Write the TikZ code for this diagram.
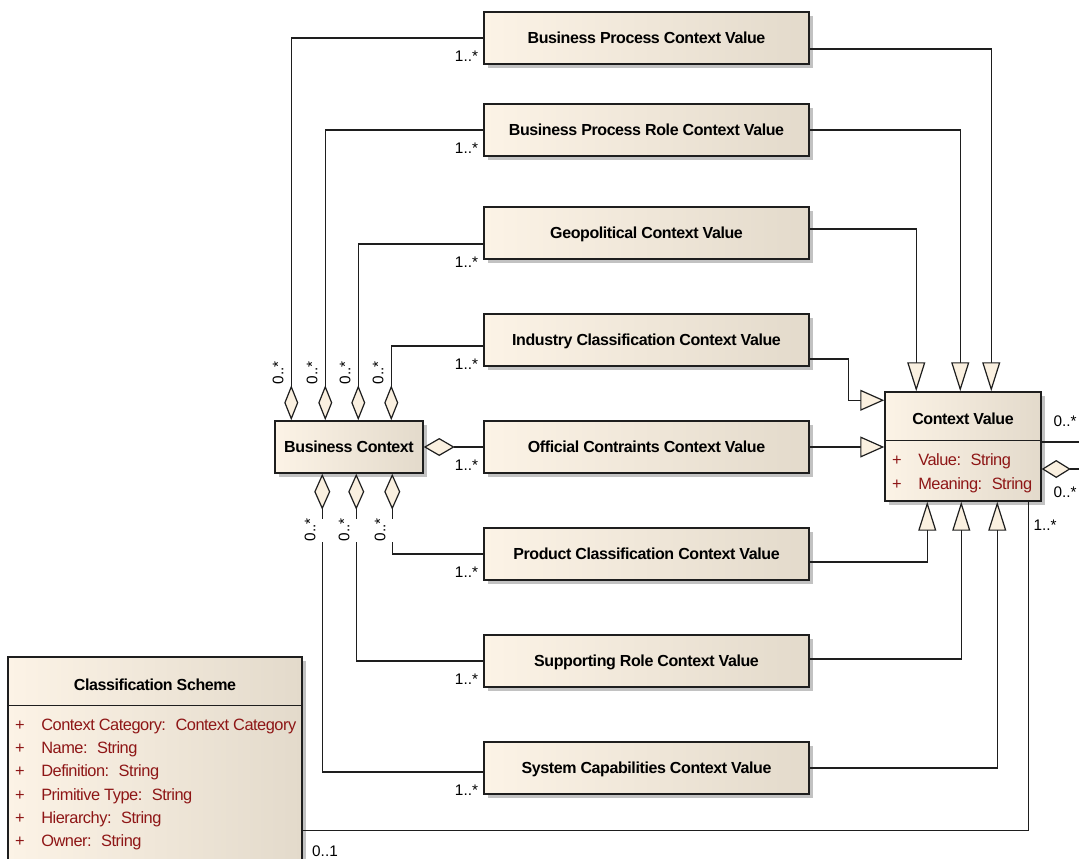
\documentclass[tikz,border=0pt]{standalone}
\usepackage{fontspec}
\setmainfont{Liberation Sans}
\newfontfamily\titlesans[LetterSpace=-2.5]{Liberation Sans}
\newfontfamily\attrsans[LetterSpace=-3]{Liberation Sans}
\usetikzlibrary{arrows.meta,shadows}
\definecolor{creamL}{RGB}{252,243,230}
\definecolor{creamR}{RGB}{227,218,203}
\definecolor{tipfill}{RGB}{250,240,224}
\definecolor{attrred}{RGB}{142,22,22}
\definecolor{ink}{RGB}{30,30,30}
\begin{document}
\begin{tikzpicture}[x=0.75pt,y=-0.75pt,
  classbox/.style={draw=ink, line width=1.1pt, left color=creamL, right color=creamR,
    general shadow={fill=black!24, shadow xshift=3pt, shadow yshift=-3pt},
    inner sep=0pt, text height=8.6pt, text depth=0pt,
    font=\fontsize{12}{14}\titlesans\bfseries},
  valbox/.style={classbox, minimum width=243.75pt, minimum height=39pt},
  title/.style={inner sep=0pt, text height=8.6pt, text depth=0pt,
    font=\fontsize{12}{14}\titlesans\bfseries},
  attr/.style={anchor=base west, inner sep=0pt, text=attrred, font=\fontsize{12.3}{14}\attrsans},
  plus/.style={anchor=base, inner sep=0pt, text=attrred, font=\fontsize{12.3}{14}\selectfont},
  mult/.style={inner sep=0pt, font=\fontsize{11.5}{13}\selectfont},
  endmult/.style={mult, anchor=north east, xshift=-3.5pt, yshift=-9.5pt},
  wire/.style={draw=ink, line width=0.9pt},
  aggup/.style={wire, {Diamond[length=26.25pt,width=10.5pt,fill=tipfill]}-},
  aggdown/.style={wire, {Diamond[length=27pt,width=12pt,fill=tipfill]}-},
  aggside/.style={wire, {Diamond[length=23.25pt,width=13.5pt,fill=tipfill]}-},
  genv/.style={wire, -{Triangle[length=21.75pt,width=13.5pt,fill=tipfill]}},
  genh/.style={wire, -{Triangle[length=18pt,width=15.75pt,fill=tipfill]}},
  divider/.style={draw=ink, line width=1.1pt}
]
\clip (0,0) rectangle (1079,858);

% ---- context value classes ----
\node[valbox] (bpcv)  at (646.5,38)  {Business Process Context Value};
\node[valbox] (bprcv) at (646.5,130) {Business Process Role Context Value};
\node[valbox] (geo)   at (646.5,233) {Geopolitical Context Value};
\node[valbox] (ind)   at (646.5,340) {Industry Classification Context Value};
\node[valbox] (off)   at (646.5,447) {Official Contraints Context Value};
\node[valbox] (prod)  at (646.5,554) {Product Classification Context Value};
\node[valbox] (sup)   at (646.5,661) {Supporting Role Context Value};
\node[valbox] (sys)   at (646.5,768) {System Capabilities Context Value};

% ---- business context ----
\node[classbox, minimum width=111pt, minimum height=39pt] (bc) at (349,447) {Business Context};

% ---- context value (with attributes) ----
\node[classbox, minimum width=117pt, minimum height=81.75pt] (cv) at (963,446.5) {};
\node[title] (cvt) at (963,419) {Context Value};
\draw[divider] ([yshift=-36.75pt]cv.north west) -- ([yshift=-36.75pt]cv.north east);
\node[plus] at (897,465) {+};
\node[attr] at (918,465) {Value:~ String};
\node[plus] at (897,489) {+};
\node[attr] at (918,489) {Meaning:~ String};

% ---- classification scheme ----
\node[classbox, minimum width=220.5pt, minimum height=167.25pt] (cs) at (155,768.5) {};
\node[title] (cst) at (155,685) {Classification Scheme};
\draw[divider] ([yshift=-36.75pt]cs.north west) -- ([yshift=-36.75pt]cs.north east);
\foreach \yy/\txt in {730/{Context Category:~ Context Category}, 753/{Name:~ String},
    776/{Definition:~ String}, 800/{Primitive Type:~ String}, 823/{Hierarchy:~ String},
    846/{Owner:~ String}} {
  \node[plus] at (20,\yy) {+};
  \node[attr] at (41,\yy) {\txt};
}

% ---- aggregations from business context ----
\draw[aggup] ([xshift=12.75pt]bc.north west) |- (bpcv.west) node[endmult] {1..*};
\draw[aggup] ([xshift=38.25pt]bc.north west) |- (bprcv.west) node[endmult] {1..*};
\draw[aggup] ([xshift=63pt]bc.north west) |- ([yshift=-8.25pt]geo.west) node[endmult] {1..*};
\draw[aggup] ([xshift=87.75pt]bc.north west) |- ([yshift=-4.5pt]ind.west) node[endmult] {1..*};
\draw[aggside] (bc.east) -- (off.west) node[endmult] {1..*};
\draw[aggdown] ([xshift=88.5pt]bc.south west) |- (prod.west) node[endmult] {1..*};
\draw[aggdown] ([xshift=61.5pt]bc.south west) |- (sup.west) node[endmult] {1..*};
\draw[aggdown] ([xshift=36pt]bc.south west) |- ([yshift=-3pt]sys.west) node[endmult] {1..*};

% multiplicities at the business context end
\foreach \xx in {278,312,345,378} {
  \node[mult, rotate=90] at (\xx,373) {0..*};
}
\foreach \xx in {310,344,380} {
  \node[mult, rotate=90, fill=white, minimum height=22pt] at (\xx,530) {0..*};
}

% ---- generalizations into context value ----
\draw[genv] ([yshift=-8.25pt]bpcv.east) -| ([xshift=80.25pt]cv.north west);
\draw[genv] (bprcv.east) -| ([xshift=57pt]cv.north west);
\draw[genv] ([yshift=3pt]geo.east) -| ([xshift=24pt]cv.north west);
\draw[genh] ([yshift=-14.25pt]ind.east) -- ++(39,0) |- ([yshift=-6.75pt]cv.north west);
\draw[genh] (off.east) -- (off.east -| cv.west);
\draw[genv] ([yshift=-6pt]prod.east) -| ([xshift=32.25pt]cv.south west);
\draw[genv] ([yshift=1.5pt]sup.east) -| ([xshift=57.75pt]cv.south west);
\draw[genv] (sys.east) -| ([xshift=84.75pt]cv.south west);

% ---- association to classification scheme ----
\draw[wire] ([xshift=108pt]cv.south west) |- ([yshift=-130.5pt]cs.north east);
\node[mult] at (1045,525) {1..*};
\node[mult] at (325,851) {0..1};

% ---- links leaving to the right ----
\coordinate (r1) at (1085,442);
\coordinate (r2) at (1085,469);
\draw[wire] ([yshift=3.375pt]cv.east) -- (r1);
\draw[aggside, {Diamond[length=21.75pt,width=13.5pt,fill=tipfill]}-] ([yshift=-16.875pt]cv.east) -- (r2);
\node[mult] at (1065,421) {0..*};
\node[mult] at (1065,492) {0..*};
\end{tikzpicture}
\end{document}
